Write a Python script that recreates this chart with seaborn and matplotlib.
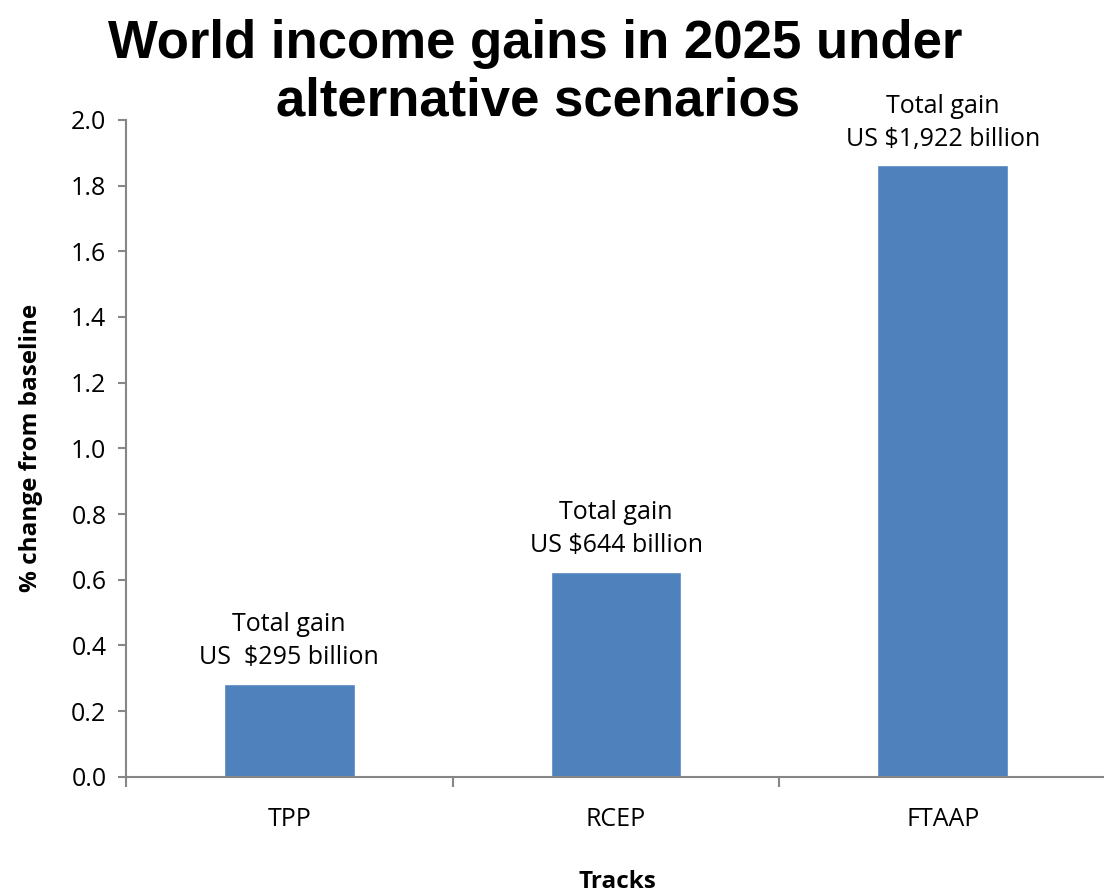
import numpy as np
import pandas as pd
import matplotlib
matplotlib.use('Agg')
import matplotlib.pyplot as plt
import seaborn as sns

# 数据
tracks = ['TPP', 'RCEP', 'FTAAP']
pct_change = [0.284, 0.624, 1.861]
gain_labels = ['Total gain\nUS  $295 billion', 'Total gain\nUS $644 billion', 'Total gain\nUS $1,922 billion']
yticks = [0.0, 0.2, 0.4, 0.6, 0.8, 1.0, 1.2, 1.4, 1.6, 1.8, 2.0]
title_lines = ['World income gains in 2025 under', 'alternative scenarios']

df = pd.DataFrame({'Tracks': tracks, 'pct': pct_change})

sns.set_style('white')
plt.rcParams['font.family'] = ['Open Sans', 'DejaVu Sans']
plt.rcParams['text.color'] = 'black'
plt.rcParams['axes.labelcolor'] = 'black'
plt.rcParams['xtick.color'] = 'black'
plt.rcParams['ytick.color'] = 'black'

fig = plt.figure(figsize=(11.04, 8.94), dpi=100)
ax = fig.add_axes([0.114, 0.131, 0.888, 0.735])

sns.barplot(x='Tracks', y='pct', data=df, color='#4F81BD', width=0.4, saturation=1, ax=ax)

# 柱顶标注
for i, (v, lab) in enumerate(zip(pct_change, gain_labels)):
    ax.annotate(lab, xy=(i, v), xytext=(0, 10), textcoords='offset points',
                ha='center', va='bottom', fontsize=18, linespacing=1.4)

ax.set_ylim(0, 2.0)
ax.set_xlim(-0.5, 2.5)
ax.set_yticks(yticks)
ax.set_yticklabels(['%.1f' % t for t in yticks], fontsize=18)
ax.set_xticks([0, 1, 2])
ax.set_xticklabels(tracks, fontsize=18)
ax.tick_params(axis='x', length=0, pad=22)
ax.tick_params(axis='y', length=6, color='#868686', width=1.5, left=True, pad=8)
ax.set_xticks([-0.5, 0.5, 1.5, 2.5], minor=True)
ax.tick_params(axis='x', which='minor', length=7, color='#868686', width=1.5, bottom=True, direction='out')

for s in ['top', 'right']:
    ax.spines[s].set_visible(False)
for s in ['left', 'bottom']:
    ax.spines[s].set_color('#868686')
    ax.spines[s].set_linewidth(1.5)

ax.set_ylabel('% change from baseline', fontsize=17.5, fontweight='bold', labelpad=20)
ax.set_xlabel('')
fig.text(0.559, 0.013, 'Tracks', ha='center', va='center', fontsize=17.5, fontweight='bold')

# 标题分两行
fig.text(0.485, 0.951, title_lines[0], ha='center', va='center', fontsize=38,
         fontweight='bold', family=['Liberation Sans', 'DejaVu Sans'])
fig.text(0.487, 0.886, title_lines[1], ha='center', va='center', fontsize=38,
         fontweight='bold', family=['Liberation Sans', 'DejaVu Sans'])

plt.savefig('out.png', dpi=100)
